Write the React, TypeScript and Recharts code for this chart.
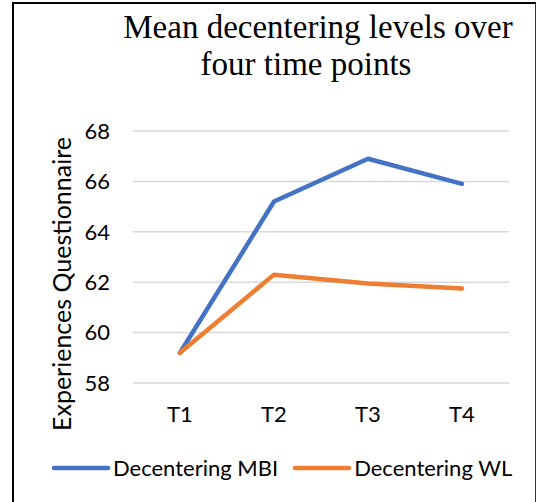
import { CartesianGrid, Line, LineChart, XAxis, YAxis } from 'recharts';

const timePoints = ['T1', 'T2', 'T3', 'T4'];
const mbiMeans = [59.2, 65.2, 66.9, 65.9];
const wlMeans = [59.2, 62.3, 61.95, 61.75];
const yTicks = [58, 60, 62, 64, 66, 68];
const titleLines = ['Mean decentering levels over', 'four time points'];
const seriesNames = ['Decentering MBI', 'Decentering WL'];

const BLUE = '#4472C4';
const ORANGE = '#ED7D31';
const SANS = 'Lato, "Open Sans", sans-serif';

const chartData = timePoints.map((t, i) => ({
  time: t,
  mbi: mbiMeans[i],
  wl: wlMeans[i],
}));

function YLabel() {
  return (
    <text
      x={61}
      y={284}
      transform="rotate(-90 61 284)"
      textAnchor="middle"
      dominantBaseline="central"
      fontFamily={SANS}
      fontSize={25}
      fill="#000"
    >
      Experiences Questionnaire
    </text>
  );
}

function ChartLegend() {
  const colors = [BLUE, ORANGE];
  return (
    <div
      style={{
        position: 'absolute',
        left: 51,
        top: 454,
        display: 'flex',
        alignItems: 'center',
        fontFamily: SANS,
        fontSize: 22,
        color: '#000',
      }}
    >
      {seriesNames.map((name, i) => (
        <div key={name} style={{ display: 'flex', alignItems: 'center', marginRight: 14 }}>
          <svg width={60} height={10} style={{ marginRight: 2 }}>
            <line x1={3} y1={5} x2={57} y2={5} stroke={colors[i]} strokeWidth={4.5} strokeLinecap="round" />
          </svg>
          <span>{name}</span>
        </div>
      ))}
    </div>
  );
}

export default function App() {
  return (
    <div style={{ position: 'absolute', left: 0, top: 0, width: 538, height: 502, background: '#fff', overflow: 'hidden' }}>
      <style>{'body{margin:0}'}</style>
      <div
        style={{
          position: 'absolute',
          left: 12,
          top: 2,
          width: 521,
          height: 540,
          borderLeft: '2px solid #000',
          borderTop: '2px solid #000',
          borderRight: '1.5px solid #333',
        }}
      />
      <svg width={538} height={100} style={{ position: 'absolute', left: 0, top: 0 }}>
        <text x={318} y={38} textAnchor="middle" fontFamily='"Liberation Serif", serif' fontSize={33} fill="#000">
          {titleLines[0]}
        </text>
        <text x={306} y={75} textAnchor="middle" fontFamily='"Liberation Serif", serif' fontSize={33} fill="#000">
          {titleLines[1]}
        </text>
      </svg>
      <div style={{ position: 'absolute', left: 0, top: 0 }}>
        <LineChart width={538} height={502} data={chartData} margin={{ top: 131, right: 29, bottom: 89, left: 0 }}>
          <CartesianGrid vertical={false} stroke="#d9d9d9" strokeWidth={1.5} />
          <XAxis
            dataKey="time"
            height={30}
            axisLine={false}
            tickLine={false}
            tickMargin={17}
            padding={{ left: 47, right: 47 }}
            tick={{ fill: '#000', fontSize: 22, fontFamily: SANS }}
          />
          <YAxis
            width={133}
            domain={[58, 68]}
            ticks={yTicks}
            axisLine={false}
            tickLine={false}
            tickMargin={17}
            tick={{ fill: '#000', fontSize: 22, fontFamily: SANS }}
            label={<YLabel />}
          />
          <Line type="linear" dataKey="mbi" name={seriesNames[0]} stroke={BLUE} strokeWidth={4.5} strokeLinecap="round" strokeLinejoin="round" dot={false} activeDot={false} isAnimationActive={false} />
          <Line type="linear" dataKey="wl" name={seriesNames[1]} stroke={ORANGE} strokeWidth={4.5} strokeLinecap="round" strokeLinejoin="round" dot={false} activeDot={false} isAnimationActive={false} />
        </LineChart>
      </div>
      <ChartLegend />
    </div>
  );
}
